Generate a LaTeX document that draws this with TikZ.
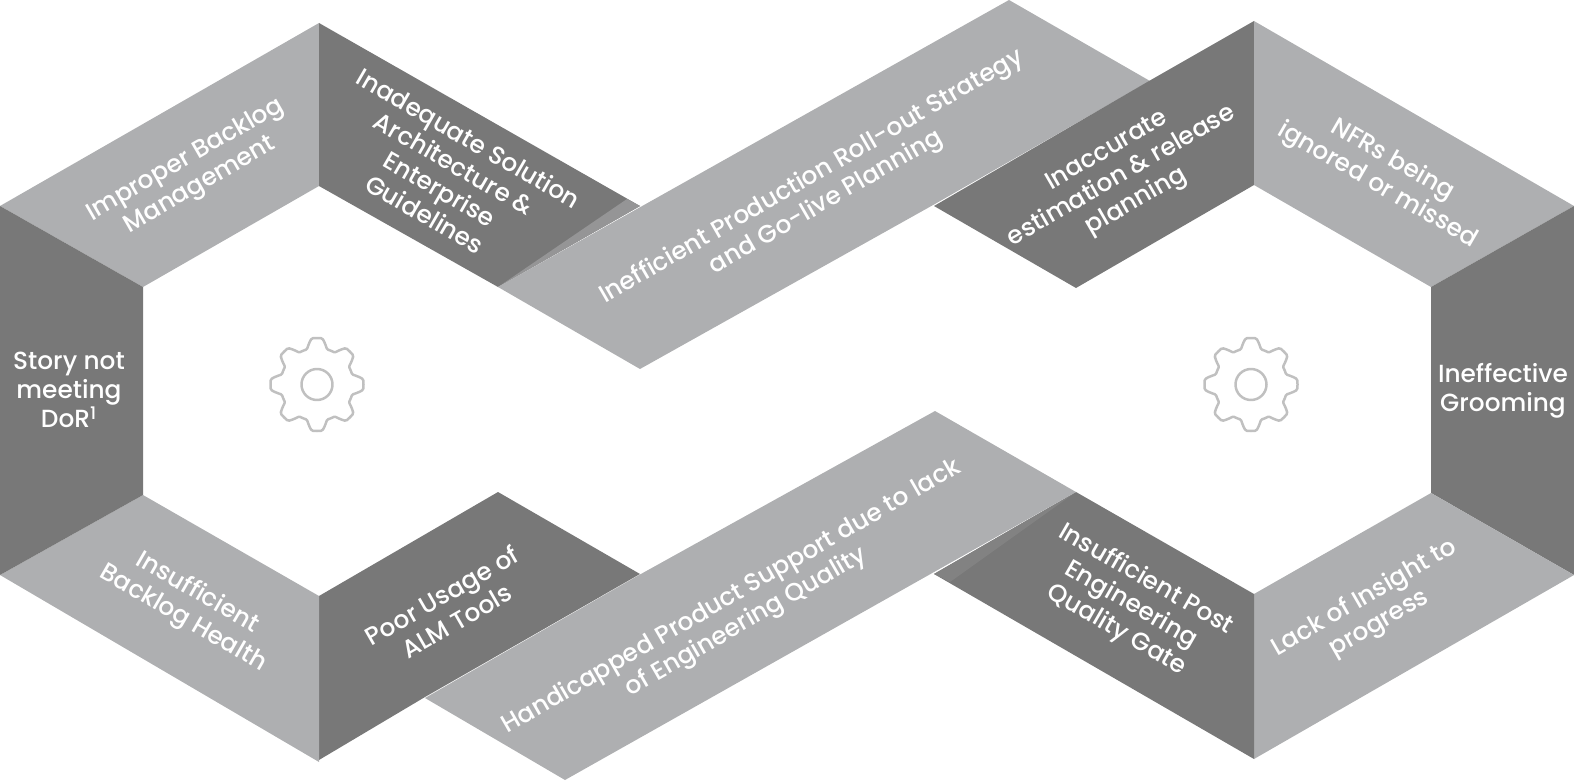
\documentclass[tikz,border=0pt]{standalone}
\usepackage{fontspec}
\setmainfont{Poppins}[UprightFont=* Medium]
\definecolor{LightBand}{RGB}{174,175,177}
\definecolor{DarkBand}{RGB}{120,120,120}
\definecolor{FoldLight}{RGB}{149,149,150}
\definecolor{FoldDark}{RGB}{130,130,130}
\definecolor{GearGray}{RGB}{192,192,192}
\tikzset{
  lightband/.style={fill=LightBand},
  darkband/.style={fill=DarkBand},
  bandtext/.style={text=white, align=center, inner sep=0pt, font=\fontsize{12.4}{14.6}\selectfont},
  gearline/.style={draw=GearGray, line width=1.25pt, line join=round},
  gearicon/.pic={
    \draw[gearline] plot[samples=145, domain=0:360] ({(41.5+5*min(1,max(-1,1.6*cos(8*\x))))*sin(\x)},{(41.5+5*min(1,max(-1,1.6*cos(8*\x))))*cos(\x)}) -- cycle;
    \draw[gearline] (0,0) circle (15.5);
  }
}
\begin{document}
\begin{tikzpicture}[x=0.5pt,y=-0.5pt]
      \useasboundingbox (0,0) rectangle (1574,781);
      \fill[lightband] (0,206)--(319,23)--(319,186)--(143,287)--cycle;
      \fill[darkband] (319,23)--(640,206)--(498,287)--(319,186)--cycle;
      \fill[FoldLight] (627,199)--(640,206)--(498,287)--cycle;
      \fill[lightband] (498,287)--(1009,0)--(1150,81)--(934,204.5)--(640,369)--cycle;
      \fill[darkband] (1254,21)--(1254,185)--(1076,288)--(934,206)--(1149,81)--cycle;
      \fill[lightband] (1254,21)--(1574,206)--(1431,287)--(1254,185)--cycle;
      \fill[darkband] (1574,206)--(1574,575)--(1431,493)--(1431,287)--cycle;
      \fill[lightband] (1574,575)--(1254,759)--(1254,594)--(1431,493)--cycle;
      \fill[darkband] (1254,594)--(1254,759)--(934,574)--(1076,492)--cycle;
      \fill[FoldDark] (1076,492)--(934,574)--(950,582)--cycle;
      \fill[lightband] (1076,492)--(565,780)--(425,698)--(640,574.5)--(935,411)--cycle;
      \fill[darkband] (319,596)--(498,492)--(640,574)--(425,697)--(319,760)--cycle;
      \fill[lightband] (0,575)--(143,495)--(319,596)--(319,762)--cycle;
      \fill[darkband] (0,206)--(143,287)--(143,495)--(0,575)--cycle;
      \pic at (317,384.5) {gearicon};
      \pic at (1251,384.5) {gearicon};
      \node[bandtext, rotate=30] (improper) at (193,173) {Improper Backlog\\Management};
      \node[bandtext, rotate=-30] (inadequate) at (447,176) {Inadequate Solution\\Architecture \&\\Enterprise\\Guidelines};
      \node[bandtext, rotate=30] (rollout) at (819,190) {Inefficient Production Roll-out Strategy\\and Go-live Planning};
      \node[bandtext, rotate=30] (estimation) at (1122,177) {Inaccurate\\estimation \& release\\planning};
      \node[bandtext, rotate=-30] (nfrs) at (1385,173) {NFRs being\\ignored or missed};
      \node[bandtext] (story) at (69,390) {Story not\\meeting\\DoR\textsuperscript{1}};
      \node[bandtext] (grooming) at (1503,391) {Ineffective\\Grooming};
      \node[bandtext, rotate=30] (insight) at (1372,611) {Lack of Insight to\\progress};
      \node[bandtext, rotate=-30] (postgate) at (1131,605) {Insufficient Post\\Engineering\\Quality Gate};
      \node[bandtext, rotate=30] (support) at (739,610) {Handicapped Product Support due to lack\\of Engineering Quality};
      \node[bandtext, rotate=30] (almtools) at (449,608) {Poor Usage of\\ALM Tools};
      \node[bandtext, rotate=-30] (backlog) at (190,606) {Insufficient\\Backlog Health};
    \end{tikzpicture}
\end{document}
